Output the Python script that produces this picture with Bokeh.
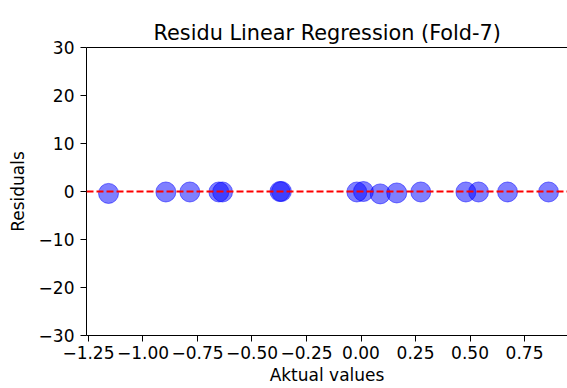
from bokeh.plotting import figure
from bokeh.models import Span, FixedTicker, LinearAxis, Range1d
from bokeh.embed import file_html
from bokeh.resources import INLINE

# Data
actual = [-1.158, -0.895, -0.785, -0.652, -0.635, -0.372, -0.365, -0.019,
          0.011, 0.088, 0.164, 0.274, 0.481, 0.539, 0.672, 0.860]
residuals = [-0.4, -0.1, -0.1, -0.1, -0.1, 0.0, 0.0, -0.1,
             0.0, -0.5, -0.3, -0.1, -0.1, -0.1, -0.1, -0.1]

x_ticks = [-1.25, -1.0, -0.75, -0.5, -0.25, 0.0, 0.25, 0.5, 0.75]
x_tick_labels = ["\u22121.25", "\u22121.00", "\u22120.75", "\u22120.50", "\u22120.25",
                 "0.00", "0.25", "0.50", "0.75"]
y_ticks = [-30, -20, -10, 0, 10, 20, 30]
y_tick_labels = ["\u221230", "\u221220", "\u221210", "0", "10", "20", "30"]

FONT = "DejaVu Sans"

p = figure(width=567, height=388, output_backend="svg", toolbar_location=None,
           x_range=Range1d(-1.259, 0.947), y_range=Range1d(-30, 30),
           min_border_left=86, min_border_right=0, min_border_top=47, min_border_bottom=53,
           x_axis_label="Aktual values", y_axis_label="Residuals")
p.frame_width = 481
p.frame_height = 288

p.title.text = "Residu Linear Regression (Fold-7)"
p.title.text_font = FONT
p.title.text_font_size = "20.8px"
p.title.text_font_style = "normal"
p.title.text_color = "black"
p.title.align = "left"
p.title.offset = 67
p.title.standoff = 5

p.background_fill_color = "white"
p.border_fill_color = "white"
p.outline_line_color = None
p.xgrid.visible = False
p.ygrid.visible = False

p.xaxis.ticker = FixedTicker(ticks=x_ticks)
p.xaxis.major_label_overrides = dict(zip(x_ticks, x_tick_labels))
p.yaxis.ticker = FixedTicker(ticks=y_ticks)
p.yaxis.major_label_overrides = dict(zip(y_ticks, y_tick_labels))

for ax in (p.xaxis[0], p.yaxis[0]):
    ax.axis_line_color = "black"
    ax.axis_line_width = 1
    ax.major_tick_line_color = "black"
    ax.major_tick_out = 6
    ax.major_tick_in = 0
    ax.minor_tick_line_color = None
    ax.major_label_text_font = FONT
    ax.major_label_text_font_size = "17px"
    ax.major_label_text_color = "black"
    ax.axis_label_text_font = FONT
    ax.axis_label_text_font_size = "17px"
    ax.axis_label_text_font_style = "normal"
    ax.axis_label_text_color = "black"

p.xaxis.major_label_standoff = 4
p.xaxis.axis_label_standoff = 3
p.yaxis.major_label_standoff = 6
p.yaxis.axis_label_standoff = 8

# top spine (right spine is cropped off in the reference)
top = LinearAxis(ticker=FixedTicker(ticks=[]), axis_line_color="black", axis_line_width=1,
                 major_tick_line_color=None, minor_tick_line_color=None,
                 major_label_text_font_size="0px", major_label_standoff=0)
p.add_layout(top, "above")

p.scatter(actual, residuals, size=20, fill_color="blue", fill_alpha=0.5,
          line_color="blue", line_alpha=0.5, line_width=1)

zero = Span(location=0, dimension="width", line_color="red", line_width=2,
            line_dash="7 3")
p.add_layout(zero)

open("out.html", "w").write(file_html(p, INLINE))
